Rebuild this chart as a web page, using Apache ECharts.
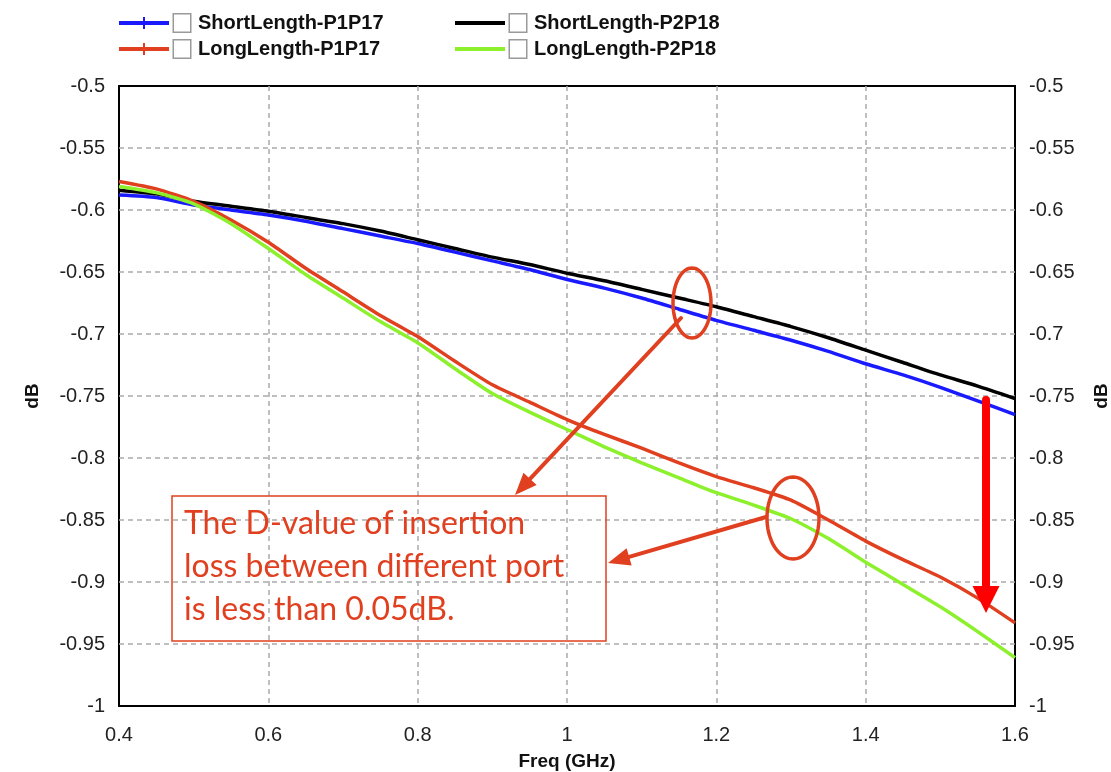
<!DOCTYPE html>
<html>
<head>
<meta charset="utf-8">
<script src="https://cdn.jsdelivr.net/npm/echarts/dist/echarts.min.js"></script>
<style>
  html, body { margin: 0; background: #fff; }
  #chart { width: 1111px; height: 772px; }
</style>
</head>
<body>
<div id="chart"></div>
<script>
// frequency points (GHz)
const freq = [0.4, 0.45, 0.5, 0.55, 0.6, 0.65, 0.7, 0.75, 0.8, 0.85, 0.9, 0.95, 1.0,
  1.05, 1.1, 1.15, 1.2, 1.25, 1.3, 1.35, 1.4, 1.45, 1.5, 1.55, 1.6]

// insertion loss, dB
const shortP1P17 = [-0.588, -0.590, -0.596, -0.600, -0.604, -0.609, -0.615, -0.621, -0.627,
  -0.634, -0.641, -0.648, -0.656, -0.663, -0.671, -0.680, -0.689, -0.697, -0.705, -0.714,
  -0.724, -0.733, -0.743, -0.754, -0.765]
const shortP2P18 = [-0.584, -0.587, -0.593, -0.597, -0.601, -0.606, -0.611, -0.617, -0.624,
  -0.631, -0.638, -0.644, -0.651, -0.657, -0.664, -0.671, -0.678, -0.686, -0.694, -0.703,
  -0.713, -0.723, -0.733, -0.742, -0.752]
const longP1P17 = [-0.577, -0.583, -0.593, -0.608, -0.626, -0.647, -0.666, -0.685, -0.702,
  -0.722, -0.741, -0.755, -0.769, -0.781, -0.792, -0.804, -0.815, -0.824, -0.834, -0.850,
  -0.867, -0.882, -0.896, -0.913, -0.933]
const longP2P18 = [-0.581, -0.586, -0.595, -0.611, -0.631, -0.652, -0.671, -0.690, -0.707,
  -0.728, -0.748, -0.763, -0.777, -0.791, -0.804, -0.816, -0.828, -0.838, -0.849, -0.865,
  -0.884, -0.902, -0.920, -0.940, -0.961]

const seriesNames = ['ShortLength-P1P17', 'ShortLength-P2P18', 'LongLength-P1P17', 'LongLength-P2P18']
const seriesColors = ['#1a1aff', '#000000', '#e0401f', '#8cf02c']

const noteLines = ['The D-value of insertion', 'loss between different port', 'is less than 0.05dB.']

const annoColor = '#e0401f'
const font = 'Liberation Sans, Arial, sans-serif'

const chart = echarts.init(document.getElementById('chart'))

function pairs(values) {
  return freq.map((f, i) => [f, values[i]])
}

function ellipsePoints(cx, cy, rx, ry) {
  const pts = []
  for (let i = 0; i < 72; i++) {
    const a = i / 72 * Math.PI * 2
    pts.push([cx + rx * Math.cos(a), cy + ry * Math.sin(a)])
  }
  return pts
}

// arrow: shaft + triangular head, tip at (x2, y2)
function arrow(x1, y1, x2, y2, color, width, headLen, headW) {
  const ang = Math.atan2(y2 - y1, x2 - x1)
  const bx = x2 - headLen * Math.cos(ang)
  const by = y2 - headLen * Math.sin(ang)
  const nx = -Math.sin(ang) * headW / 2
  const ny = Math.cos(ang) * headW / 2
  return [
    { type: 'line', z: 100, shape: { x1: x1, y1: y1, x2: bx, y2: by },
      style: { stroke: color, lineWidth: width, lineCap: 'round' } },
    { type: 'polygon', z: 100, shape: { points: [[x2, y2], [bx + nx, by + ny], [bx - nx, by - ny]] },
      style: { fill: color } }
  ]
}

// legend icon: thick line, with a small cross tick for the P1P17 traces
const iconTick = 'path://M0,4L50,4L50,8L0,8Z M24,0L26,0L26,12L24,12Z'
const iconPlain = 'path://M0,4L50,4L50,8L0,8Z'
const legendPos = [[119, 13], [455, 13], [119, 39], [455, 39]]

const legends = seriesNames.map((name, i) => ({
  data: [name],
  left: legendPos[i][0],
  top: legendPos[i][1],
  padding: 0,
  selectedMode: false,
  itemWidth: 50,
  itemHeight: 12,
  icon: name.indexOf('P1P17') >= 0 ? iconTick : iconPlain,
  formatter: n => '{box| }{t|' + n + '}',
  textStyle: {
    rich: {
      box: { width: 16, height: 17, borderColor: '#9a9a9a', borderWidth: 1.5, backgroundColor: '#fff' },
      t: { fontFamily: font, fontWeight: 'bold', fontSize: 20, color: '#111', padding: [0, 0, 0, 8] }
    }
  }
}))

const yAxisBase = {
  type: 'value',
  min: -1,
  max: -0.5,
  interval: 0.05,
  name: 'dB',
  nameLocation: 'middle',
  nameRotate: 90,
  nameGap: 77,
  nameTextStyle: { fontFamily: font, fontWeight: 'bold', fontSize: 19, color: '#111' },
  axisLine: { show: false },
  axisTick: { show: false },
  axisLabel: {
    fontFamily: font, fontSize: 20, color: '#222', margin: 14,
    formatter: v => String(+v.toFixed(2))
  },
  splitLine: { show: true, showMinLine: false, showMaxLine: false,
    lineStyle: { color: '#aaa', width: 1.5, type: [5, 4] } }
}

const graphics = []
graphics.push({ type: 'polygon', z: 100, shape: { points: ellipsePoints(692, 303, 19, 35) },
  style: { fill: 'none', stroke: annoColor, lineWidth: 3.5 } })
graphics.push({ type: 'polygon', z: 100, shape: { points: ellipsePoints(793, 518, 26, 41) },
  style: { fill: 'none', stroke: annoColor, lineWidth: 3.5 } })
graphics.push(...arrow(681, 318, 515, 495, annoColor, 4, 22, 18))
graphics.push(...arrow(766, 517, 608, 563, annoColor, 4, 22, 18))
graphics.push(...arrow(986, 400, 986, 613, '#ff0000', 8, 27, 27))
graphics.push({ type: 'rect', z: 100, shape: { x: 172, y: 496, width: 434, height: 145 },
  style: { fill: 'none', stroke: annoColor, lineWidth: 1.5 } })
graphics.push({ type: 'text', z: 101, x: 184, y: 502,
  style: { text: noteLines.join('\n'), fill: annoColor, font: '32px Lato, "Open Sans", sans-serif',
    lineHeight: 43, verticalAlign: 'top' } })

chart.setOption({
  animation: false,
  backgroundColor: '#fff',
  legend: legends,
  grid: {
    left: 119,
    right: 96,
    top: 86,
    bottom: 66,
    outerBoundsMode: 'none',
    show: true,
    borderColor: '#000',
    borderWidth: 2
  },
  xAxis: {
    type: 'value',
    min: 0.4,
    max: 1.6,
    interval: 0.2,
    name: 'Freq (GHz)',
    nameLocation: 'middle',
    nameGap: 46,
    nameTextStyle: { fontFamily: font, fontWeight: 'bold', fontSize: 19, color: '#111' },
    axisLine: { show: false },
    axisTick: { show: false },
    axisLabel: { fontFamily: font, fontSize: 20, color: '#222', margin: 19,
      formatter: v => String(+v.toFixed(1)) },
    splitLine: { show: true, showMinLine: false, showMaxLine: false,
      lineStyle: { color: '#aaa', width: 1.5, type: [5, 4] } }
  },
  yAxis: [
    Object.assign({}, yAxisBase, { position: 'left' }),
    Object.assign({}, yAxisBase, { position: 'right', splitLine: { show: false } })
  ],
  series: [shortP1P17, shortP2P18, longP1P17, longP2P18].map((vals, i) => ({
    name: seriesNames[i],
    type: 'line',
    data: pairs(vals),
    showSymbol: false,
    smooth: 0.2,
    color: seriesColors[i],
    lineStyle: { width: 3.5, color: seriesColors[i] }
  })),
  graphic: graphics
})
</script>
</body>
</html>
